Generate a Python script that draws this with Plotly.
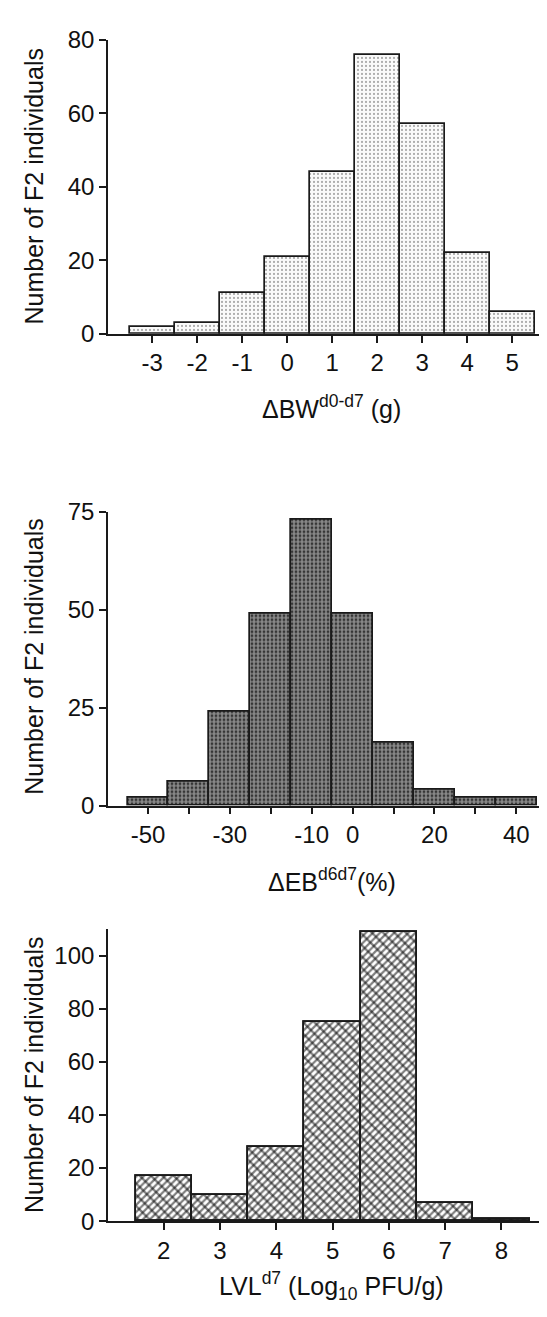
import plotly.graph_objects as go

# ---- data ----
bw_bins = [-3, -2, -1, 0, 1, 2, 3, 4, 5]
bw_counts = [2, 3, 11, 21, 44, 76, 57, 22, 6]
bw_ticktext = ["-3", "-2", "-1", "0", "1", "2", "3", "4", "5"]

eb_bins = [-50, -40, -30, -20, -10, 0, 10, 20, 30, 40]
eb_counts = [2, 6, 24, 49, 73, 49, 16, 4, 2, 2]
eb_tickvals = [-50, -30, -10, 0, 20, 40]
eb_ticktext = ["-50", "-30", "-10", "0", "20", "40"]
eb_minorvals = [-40, -20, 10, 30]

lvl_bins = [2, 3, 4, 5, 6, 7, 8]
lvl_counts = [17, 10, 28, 75, 109, 7, 1]

ylabel = "Number of F2 individuals"
FONT = "Arial, Liberation Sans, sans-serif"
W, H = 547, 1317
L = 100

fig = go.Figure()

line = dict(color="#1a1a1a", width=1.7)

fig.add_trace(go.Bar(
    x=bw_bins, y=bw_counts, width=1, xaxis="x", yaxis="y",
    marker=dict(color="white", line=line,
                pattern=dict(shape=".", fgcolor="#333", bgcolor="#fafafa", size=4, solidity=0.2)),
    showlegend=False))

fig.add_trace(go.Bar(
    x=eb_bins, y=eb_counts, width=10, xaxis="x2", yaxis="y2",
    marker=dict(color="black", line=line,
                pattern=dict(shape=".", fgcolor="#ffffff", bgcolor="#111111", size=4, solidity=0.76)),
    showlegend=False))

fig.add_trace(go.Bar(
    x=lvl_bins, y=lvl_counts, width=1, xaxis="x3", yaxis="y3",
    marker=dict(color="white", line=line,
                pattern=dict(shape="/", fgcolor="#000", bgcolor="#ffffff", size=5, solidity=0.45)),
    showlegend=False))
fig.add_trace(go.Bar(
    x=lvl_bins, y=lvl_counts, width=1, xaxis="x3", yaxis="y3",
    marker=dict(color="rgba(0,0,0,0)", line=line,
                pattern=dict(shape="\\", fgcolor="#000", bgcolor="rgba(0,0,0,0)", size=8, solidity=0.28)),
    showlegend=False))

def py(px):
    return 1 - px / H

tickfont = dict(family=FONT, size=24, color="#111")
common_x = dict(showline=True, linecolor="#1a1a1a", linewidth=1.7, ticks="outside",
                ticklen=7, tickwidth=1.6, tickcolor="#1a1a1a", showgrid=False,
                zeroline=False, tickfont=tickfont, domain=[0, 1])
common_y = dict(showline=True, linecolor="#1a1a1a", linewidth=1.7, ticks="outside",
                ticklen=7, tickwidth=1.6, tickcolor="#1a1a1a", showgrid=False,
                zeroline=False, tickfont=tickfont)

fig.update_layout(
    width=W, height=H,
    margin=dict(l=L, r=0, t=0, b=0),
    paper_bgcolor="white", plot_bgcolor="white",
    barmode="overlay", bargap=0,
    font=dict(family=FONT, color="#111"),
    xaxis=dict(common_x, range=[-3.984, 5.949], tickvals=bw_bins, ticktext=bw_ticktext, anchor="y"),
    yaxis=dict(common_y, range=[0, 80], tickvals=[0, 20, 40, 60, 80],
               domain=[py(318.3), py(18.3)], anchor="x"),
    xaxis2=dict(common_x, range=[-59.78, 49.46], tickvals=eb_tickvals, ticktext=eb_ticktext,
                anchor="y2",
                minor=dict(tickmode="array", tickvals=eb_minorvals, ticks="outside", ticklen=7,
                           tickwidth=1.6, tickcolor="#1a1a1a", showgrid=False)),
    yaxis2=dict(common_y, range=[0, 75], tickvals=[0, 25, 50, 75],
                domain=[py(800), py(500)], anchor="x2"),
    xaxis3=dict(common_x, range=[1.009, 8.953], tickvals=lvl_bins, anchor="y3"),
    yaxis3=dict(common_y, range=[0, 110], tickvals=[0, 20, 40, 60, 80, 100],
                domain=[py(1224.3), py(926)], anchor="x3"),
)

tfont = dict(family=FONT, size=25, color="#111")
yt_x = (26 - L) / (W - L)
annotations = [
    dict(text=ylabel, x=yt_x, y=py(168), textangle=-90),
    dict(text=ylabel, x=yt_x, y=py(648), textangle=-90),
    dict(text=ylabel, x=yt_x, y=py(1075), textangle=-90),
    dict(text="ΔBW<sup>d0-d7</sup> (g)", x=0.5, y=py(393), textangle=0),
    dict(text="ΔEB<sup>d6d7</sup>(%)", x=0.5, y=py(876), textangle=0),
    dict(text="LVL<sup>d7</sup> (Log<sub>10</sub> PFU/g)", x=0.5, y=py(1290), textangle=0),
]
for a in annotations:
    fig.add_annotation(xref="paper", yref="paper", xanchor="center", yanchor="middle",
                       showarrow=False, font=tfont, **a)

fig.write_html("out.html")
